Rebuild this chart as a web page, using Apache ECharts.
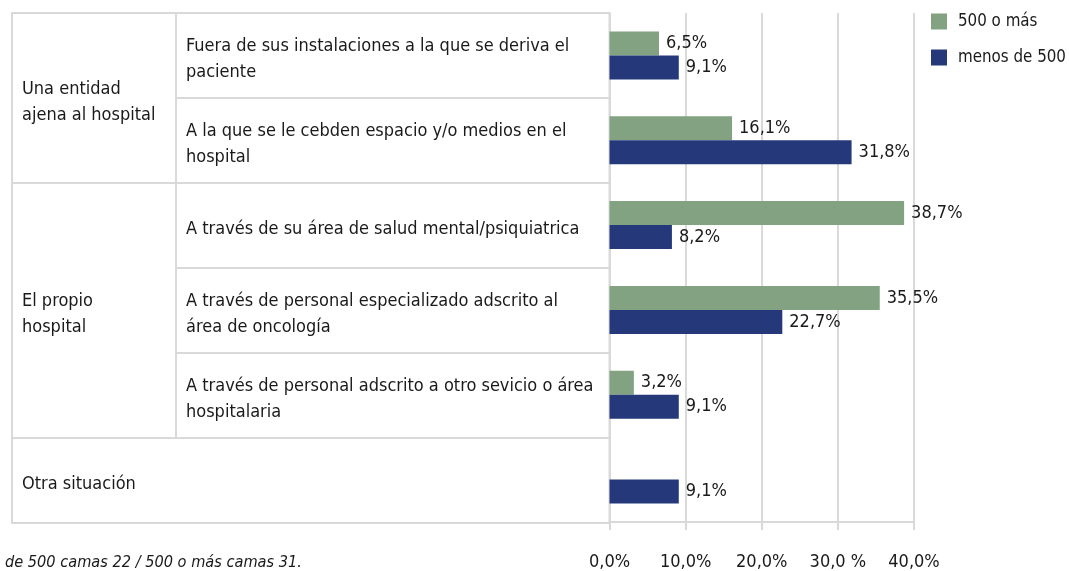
<!DOCTYPE html>
<html>
<head>
<meta charset="utf-8">
<script src="https://cdn.jsdelivr.net/npm/echarts@6/dist/echarts.min.js"></script>
<style>
html,body{margin:0;padding:0;background:#fff;}
#chart{width:1069px;height:571px;}
</style>
</head>
<body>
<div id="chart"></div>
<script>
// ---- data ----
const groups = ['Una entidad\najena al hospital', 'El propio\nhospital', 'Otra situación'];
const subcategories = [
  ['Fuera de sus instalaciones a la que se deriva el\npaciente',
   'A la que se le cebden espacio y/o medios en el\nhospital'],
  ['A través de su área de salud mental/psiquiatrica',
   'A través de personal especializado adscrito al\nárea de oncología',
   'A través de personal adscrito a otro sevicio o área\nhospitalaria'],
  []
];
const seriesNames = ['500 o más', 'menos de 500'];
const values500oMas = [6.5, 16.1, 38.7, 35.5, 3.2, null];
const valuesMenos500 = [9.1, 31.8, 8.2, 22.7, 9.1, 9.1];
const tickLabels = ['0,0%', '10,0%', '20,0%', '30,0 %', '40,0%'];
const footnote = 'de 500 camas 22 / 500 o más camas 31.';

// ---- layout / style ----
const FONT = '"DejaVu Sans Condensed", "DejaVu Sans", sans-serif';
const FS = 18;
const TXT = '#1a1a1a';
const GRID_COLOR = '#d9d9d9';
const COLORS = ['#82a282', '#24387a'];
const TABLE_W = 597.5;   // table width in px units (x axis of table grid)
const COL_SPLIT = 164;   // first column width

// rows (one per bar category) and table cells
const rows = [];
const cells = [];
groups.forEach((g, i) => {
  const subs = subcategories[i];
  const start = rows.length;
  if (subs.length) {
    subs.forEach((s, j) => {
      rows.push(s);
      cells.push({x0: COL_SPLIT, x1: TABLE_W, y0: start + j, y1: start + j + 1, text: s});
    });
    cells.push({x0: 0, x1: COL_SPLIT, y0: start, y1: start + subs.length, text: g});
  } else {
    rows.push(g);
    cells.push({x0: 0, x1: TABLE_W, y0: start, y1: start + 1, text: g});
  }
});

const fmt = p => (p.value == null ? '' : p.value.toFixed(1).replace('.', ',') + '%');

const chart = echarts.init(document.getElementById('chart'), null, {renderer: 'canvas'});
chart.setOption({
  animation: false,
  backgroundColor: '#fff',
  textStyle: {fontFamily: FONT},
  title: {
    text: footnote, left: 5, top: 555, padding: 0,
    textStyle: {fontFamily: FONT, fontSize: 16.2, fontStyle: 'italic', fontWeight: 'normal', color: TXT}
  },
  legend: {
    orient: 'vertical', left: 931, top: 13, padding: 0,
    itemWidth: 16, itemHeight: 16, itemGap: 19,
    icon: 'rect',
    data: seriesNames,
    textStyle: {fontFamily: FONT, fontSize: 16.8, lineHeight: 16, color: TXT, padding: [0, 0, 0, 6]}
  },
  grid: [
    {left: 609.5, top: 13, width: 304.5, height: 510, containLabel: false},
    {left: 12, top: 13, width: TABLE_W, height: 510, containLabel: false}
  ],
  xAxis: [
    {
      gridIndex: 0, type: 'value', min: 0, max: 40, interval: 10,
      axisLine: {show: true, lineStyle: {color: GRID_COLOR, width: 2}},
      axisTick: {show: true, length: 8, lineStyle: {color: GRID_COLOR, width: 2}},
      splitLine: {show: true, lineStyle: {color: GRID_COLOR, width: 2}},
      axisLabel: {
        margin: 31, fontSize: FS, color: TXT, fontFamily: FONT,
        formatter: v => tickLabels[Math.round(v / 10)]
      }
    },
    {gridIndex: 1, type: 'value', min: 0, max: TABLE_W, show: false}
  ],
  yAxis: [
    {
      gridIndex: 0, type: 'category', data: rows, inverse: true,
      axisLine: {show: false}, axisTick: {show: false}, axisLabel: {show: false},
      splitLine: {show: false}
    },
    {gridIndex: 1, type: 'value', min: 0, max: rows.length, inverse: true, show: false}
  ],
  series: [
    {
      type: 'custom', xAxisIndex: 1, yAxisIndex: 1, clip: false, silent: true, z: 1,
      encode: {x: [0, 1], y: [2, 3]},
      data: cells.map(c => [c.x0, c.x1, c.y0, c.y1]),
      renderItem: (params, api) => {
        const c = cells[params.dataIndex];
        const p0 = api.coord([c.x0, c.y0]);
        const p1 = api.coord([c.x1, c.y1]);
        return {
          type: 'group',
          children: [
            {type: 'rect', shape: {x: p0[0], y: p0[1], width: p1[0] - p0[0], height: p1[1] - p0[1]},
             style: {fill: 'none', stroke: GRID_COLOR, lineWidth: 2}},
            {type: 'text',
             style: {text: c.text, x: p0[0] + 10, y: (p0[1] + p1[1]) / 2 + 4,
                     fill: TXT, fontSize: FS, fontFamily: FONT, lineHeight: 26,
                     align: 'left', verticalAlign: 'middle'}}
          ]
        };
      }
    },
    {
      name: seriesNames[0], type: 'bar', xAxisIndex: 0, yAxisIndex: 0,
      data: values500oMas, barWidth: 24, barGap: '0%',
      itemStyle: {color: COLORS[0]},
      label: {show: true, position: 'right', distance: 7, fontSize: FS, color: TXT, fontFamily: FONT, formatter: fmt}
    },
    {
      name: seriesNames[1], type: 'bar', xAxisIndex: 0, yAxisIndex: 0,
      data: valuesMenos500, barWidth: 24, barGap: '0%',
      itemStyle: {color: COLORS[1]},
      label: {show: true, position: 'right', distance: 7, fontSize: FS, color: TXT, fontFamily: FONT, formatter: fmt}
    }
  ]
});
</script>
</body>
</html>
